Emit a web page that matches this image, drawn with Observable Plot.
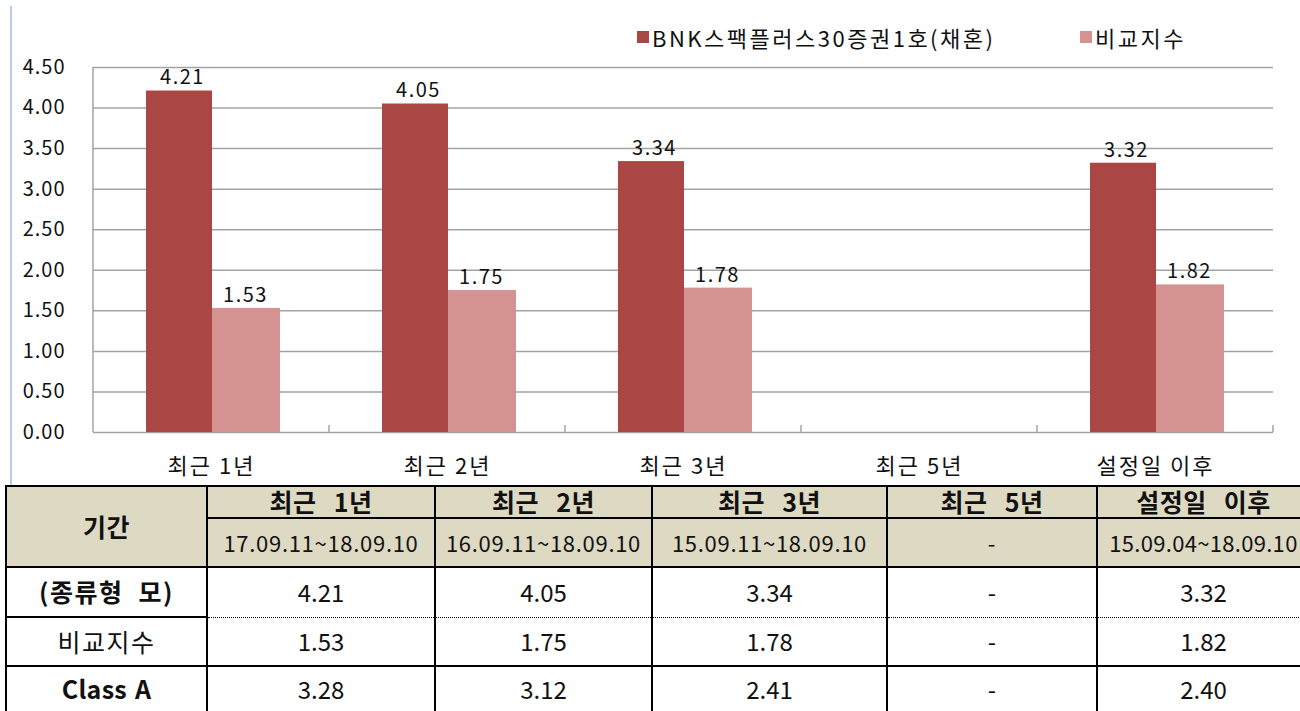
<!DOCTYPE html>
<html>
<head>
<meta charset="utf-8">
<script src="https://cdn.jsdelivr.net/npm/d3@7"></script>
<script src="https://cdn.jsdelivr.net/npm/@observablehq/plot@0.6"></script>
<style>
  html, body { margin: 0; padding: 0; background: #fff; }
  #wrap { position: relative; width: 1300px; height: 711px; overflow: hidden; font-family: "Noto Sans CJK KR", "Noto Sans", sans-serif; }
  #chartBorder { position: absolute; left: 10px; top: 6px; width: 0; height: 480px; border-left: 2px solid #b9cde5; }
  #chart { position: absolute; left: 0; top: 0; }
  #chart g[aria-label="y-axis tick label"] text { letter-spacing: 1px; }
  #chart g[aria-label="x-axis tick label"] text { letter-spacing: 2px; }
  #chart g[aria-label="text"] text { letter-spacing: 1.5px; }
  .legend { position: absolute; top: 22px; display: flex; align-items: center; font-size: 22px; line-height: 30px; color: #111; letter-spacing: 2.5px; }
  .legend .sw { width: 12px; height: 12px; margin-right: 3px; }
  table { position: absolute; left: 5px; top: 485px; width: 1304px; border-collapse: collapse; table-layout: fixed; font-family: "Noto Sans CJK KR", sans-serif; color: #111; }
  td { border: 2px solid #000; text-align: center; vertical-align: middle; padding: 0; white-space: nowrap; line-height: 1.1; }
  .hd { background: #ddd9c3; }
  .h1 { font-weight: bold; font-size: 25px; word-spacing: 11px; letter-spacing: 0.5px; }
  .dt { font-size: 22px; letter-spacing: 0.7px; }
  .dt.last { letter-spacing: 0.3px; }
  .val { font-size: 24px; }
  .lab { font-size: 25px; letter-spacing: 1.5px; word-spacing: 8px; }
  .lab.latin { letter-spacing: 0.3px; word-spacing: 2px; }
  .bold { font-weight: bold; }
  tr.r3 td.d { border-bottom: 1.5px dotted #000; }
  tr.r4 td.d { border-top: 1.5px dotted #000; }
</style>
</head>
<body>
<div id="wrap">
  <div id="chartBorder"></div>
  <div id="chart"></div>
  <div class="legend" id="leg1" style="left:637px"></div>
  <div class="legend" id="leg2" style="left:1080px"></div>
  <table id="tbl"></table>
</div>
<script>
// ---- data ----
const categories = ["최근 1년", "최근 2년", "최근 3년", "최근 5년", "설정일 이후"];
const seriesNames = ["BNK스팩플러스30증권1호(채혼)", "비교지수"];
const fundValues = [4.21, 4.05, 3.34, null, 3.32];
const indexValues = [1.53, 1.75, 1.78, null, 1.82];
const classAValues = [3.28, 3.12, 2.41, null, 2.40];
const dateRanges = ["17.09.11~18.09.10", "16.09.11~18.09.10", "15.09.11~18.09.10", "-", "15.09.04~18.09.10"];
const rowLabels = ["(종류형 모)", "비교지수", "Class A"];
const tableHeadLabel = "기간";
const yTicks = [0, 0.5, 1, 1.5, 2, 2.5, 3, 3.5, 4, 4.5];

const colors = ["#aa4643", "#d49291"];
const gridColor = "#a3a3a3";

const fundRows = categories.map((c, i) => ({cat: c, value: fundValues[i]})).filter(d => d.value != null);
const indexRows = categories.map((c, i) => ({cat: c, value: indexValues[i]})).filter(d => d.value != null);

// boundary ticks and left axis line drawn from the scales
function frameMarks(index, scales) {
  const x = scales.x, y = scales.y;
  const bw = typeof x.bandwidth === "function" ? x.bandwidth() : x.bandwidth;
  const g = d3.create("svg:g").attr("stroke", gridColor).attr("stroke-width", 1.5);
  const y0 = y(0), yTop = y(d3.max(yTicks));
  const left = x(categories[0]);
  g.append("line").attr("x1", left).attr("x2", left).attr("y1", yTop).attr("y2", y0);
  const edges = categories.slice(1).map(c => x(c)).concat([x(categories[categories.length - 1]) + bw]);
  for (const e of edges) {
    g.append("line").attr("x1", e).attr("x2", e).attr("y1", y0).attr("y2", y0 - 7);
  }
  return g.node();
}

const chart = Plot.plot({
  width: 1300,
  height: 486,
  marginLeft: 93,
  marginRight: 27,
  marginTop: 67,
  marginBottom: 54,
  style: {fontFamily: "'Noto Sans CJK KR', sans-serif", color: "#000", background: "transparent"},
  x: {domain: categories, padding: 0, label: null},
  y: {domain: [0, 4.5], label: null},
  marks: [
    Plot.ruleY(yTicks, {stroke: gridColor, strokeWidth: 1.5}),
    Plot.barY(fundRows, {x: "cat", y: "value", fill: colors[0], insetLeft: 53, insetRight: 117}),
    Plot.barY(indexRows, {x: "cat", y: "value", fill: colors[1], insetLeft: 119, insetRight: 49}),
    frameMarks,
    Plot.text(fundRows, {x: "cat", y: "value", text: d => d.value.toFixed(2), dx: -29, dy: -13, fontSize: 20, fill: "#111"}),
    Plot.text(indexRows, {x: "cat", y: "value", text: d => d.value.toFixed(2), dx: 34, dy: -13, fontSize: 20, fill: "#111"}),
    Plot.axisY({ticks: yTicks, tickFormat: d => d.toFixed(2), tickSize: 0, tickPadding: 28, fontSize: 20, fill: "#111"}),
    Plot.axisX({tickSize: 0, tickPadding: 26, fontSize: 22, fill: "#111"})
  ]
});
document.getElementById("chart").appendChild(chart);

// legend
[["leg1", 0], ["leg2", 1]].forEach(([id, i]) => {
  const el = document.getElementById(id);
  const sw = document.createElement("div");
  sw.className = "sw"; sw.style.background = colors[i];
  const tx = document.createElement("span");
  tx.textContent = seriesNames[i];
  el.appendChild(sw); el.appendChild(tx);
});

// table
const colWidths = [201, 228, 217, 235, 210, 213];
const tbl = d3.select("#tbl");
tbl.append("colgroup").selectAll("col").data(colWidths).join("col").style("width", d => d + "px");
const fmt = v => v == null ? "-" : v.toFixed(2);
const tr1 = tbl.append("tr").style("height", "32px");
tr1.append("td").attr("rowspan", 2).attr("class", "hd h1").text(tableHeadLabel);
categories.forEach(c => tr1.append("td").attr("class", "hd h1").text(c));
const tr2 = tbl.append("tr").style("height", "49px");
dateRanges.forEach((d, i) => tr2.append("td").attr("class", "hd dt" + (i === dateRanges.length - 1 ? " last" : "")).text(d));
const dataRows = [fundValues, indexValues, classAValues];
const rowHeights = [50, 49, 46];
const boldRows = [true, false, true];
dataRows.forEach((vals, r) => {
  const tr = tbl.append("tr").attr("class", "r" + (r + 3)).style("height", rowHeights[r] + "px");
  const cls = "lab" + (boldRows[r] ? " bold" : "") + (/^[A-Za-z]/.test(rowLabels[r]) ? " latin" : "");
  tr.append("td").attr("class", cls).text(rowLabels[r]);
  vals.forEach(v => tr.append("td").attr("class", "val d").text(fmt(v)));
});
</script>
</body>
</html>
